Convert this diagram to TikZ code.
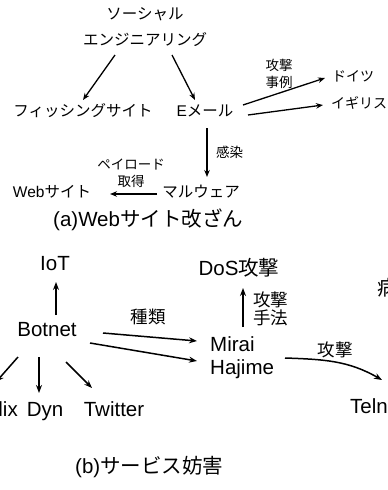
\documentclass[tikz,border=0pt]{standalone}
\usepackage{fontspec}
\setmainfont{Liberation Sans}
\newfontfamily\cjk{Noto Sans CJK JP}
\usetikzlibrary{arrows.meta}
\begin{document}
\begin{tikzpicture}[x=1pt,y=-1pt,
  lbl/.style={inner sep=0pt, text height=0.8em, text depth=0.1em},
  ml/.style={inner sep=0pt},
  fa/.style={lbl,font=\fontsize{15.5}{26}\selectfont},
  far/.style={lbl,font=\fontsize{14}{20}\selectfont},
  fas/.style={font=\fontsize{13.5}{17}\selectfont\cjk},
  fb/.style={lbl,font=\fontsize{20.5}{23}\selectfont},
  fbs/.style={font=\fontsize{17.5}{18}\selectfont\cjk},
  arra/.style={line width=1.3pt,-{Stealth[length=7pt,width=5.5pt]}},
  arrb/.style={line width=1.5pt,-{Stealth[length=8pt,width=6pt]}}]
\useasboundingbox (0,0) rectangle (388,490);
\clip (0,0) rectangle (388,490);
% ---------- (a) ----------
\node[ml,align=center,font=\fontsize{15.5}{26}\selectfont\cjk] (soc) at (145,27) {ソーシャル\\エンジニアリング};
\node[fa] (phish) at (83,113) {\cjk フィッシングサイト};
\node[fa] (email) at (205,113) {E{\cjk メール}};
\node[far,anchor=west] (doitsu) at (332,78) {\cjk ドイツ};
\node[far,anchor=west] (igirisu) at (331,105) {\cjk イギリス};
\node[ml,fas,align=center] (lcase) at (279,73.5) {攻撃\\事例};
\node[fa] (malware) at (201,194) {\cjk マルウェア};
\node[fa] (web) at (52,194) {Web{\cjk サイト}};
\node[ml,fas,align=center] (lpay) at (131,173.5) {ペイロード\\取得};
\node[ml,fas,anchor=west] (linf) at (216,152) {感染};
\node[fb,anchor=west] (titlea) at (53,223) {(a)Web{\cjk サイト改ざん}};

\draw[arra] ([shift={(-30,28)}]soc.center) -- ([shift={(0,-13)}]phish.center);
\draw[arra] ([shift={(27,28)}]soc.center) -- ([shift={(-10,-13)}]email.center);
\draw[arra] ([shift={(38,-8)}]email.center) -- ([xshift=-7pt]doitsu.west);
\draw[arra] ([shift={(43,2)}]email.center) -- ([xshift=-8pt]igirisu.west);
\draw[arra] ([shift={(2,15)}]email.center) -- ([shift={(6,-17)}]malware.center);
\draw[arra] ([shift={(-44,0)}]malware.center) -- ([shift={(58,0)}]web.center);

% ---------- (b) ----------
\node[fb] (iot) at (55,267) {IoT};
\node[fb] (botnet) at (47,333) {Botnet};
\node[ml,fbs] (lkind) at (148,317) {種類};
\node[ml,align=left,anchor=west,font=\fontsize{20.5}{23}\selectfont] (mirai) at (210,358) {Mirai\\Hajime};
\node[fb] (dos) at (239,272) {DoS{\cjk 攻撃}};
\node[ml,fbs,align=left,anchor=west] (lmeth) at (253,309) {攻撃\\手法};
\node[ml,fbs] (latk) at (335,350) {攻撃};
\node[fb,anchor=west] (telnet) at (350,410) {Telnet};
\node[fb,anchor=west] (byo) at (377,292) {\cjk 病};
\node[fb,anchor=east] (netflix) at (18,413) {Netflix};
\node[fb] (dyn) at (45,413) {Dyn};
\node[fb] (twitter) at (114,413) {Twitter};
\node[fb,anchor=west] (titleb) at (75,470) {(b){\cjk サービス妨害}};

\draw[arrb] ([shift={(9,-18)}]botnet.center) -- ([shift={(1,15)}]iot.center);
\draw[arrb] ([shift={(56,0)}]botnet.center) -- ([shift={(-13,-17)}]mirai.west);
\draw[arrb] ([shift={(43,10)}]botnet.center) -- ([shift={(-13,3)}]mirai.west);
\draw[arrb] ([shift={(33,-31)}]mirai.west) -- ([shift={(4,16)}]dos.center);
\draw[arrb] ([shift={(75,0)}]mirai.west) to[out=-2,in=150] ([shift={(32,-30)}]telnet.west);
\draw[arrb] ([shift={(-29,24)}]botnet.center) -- ([shift={(-22,-31)}]netflix.east);
\draw[arrb] ([shift={(-8,24)}]botnet.center) -- ([shift={(-6,-20)}]dyn.center);
\draw[arrb] ([shift={(19,29)}]botnet.center) -- ([shift={(-22,-25)}]twitter.center);
\end{tikzpicture}
\end{document}
